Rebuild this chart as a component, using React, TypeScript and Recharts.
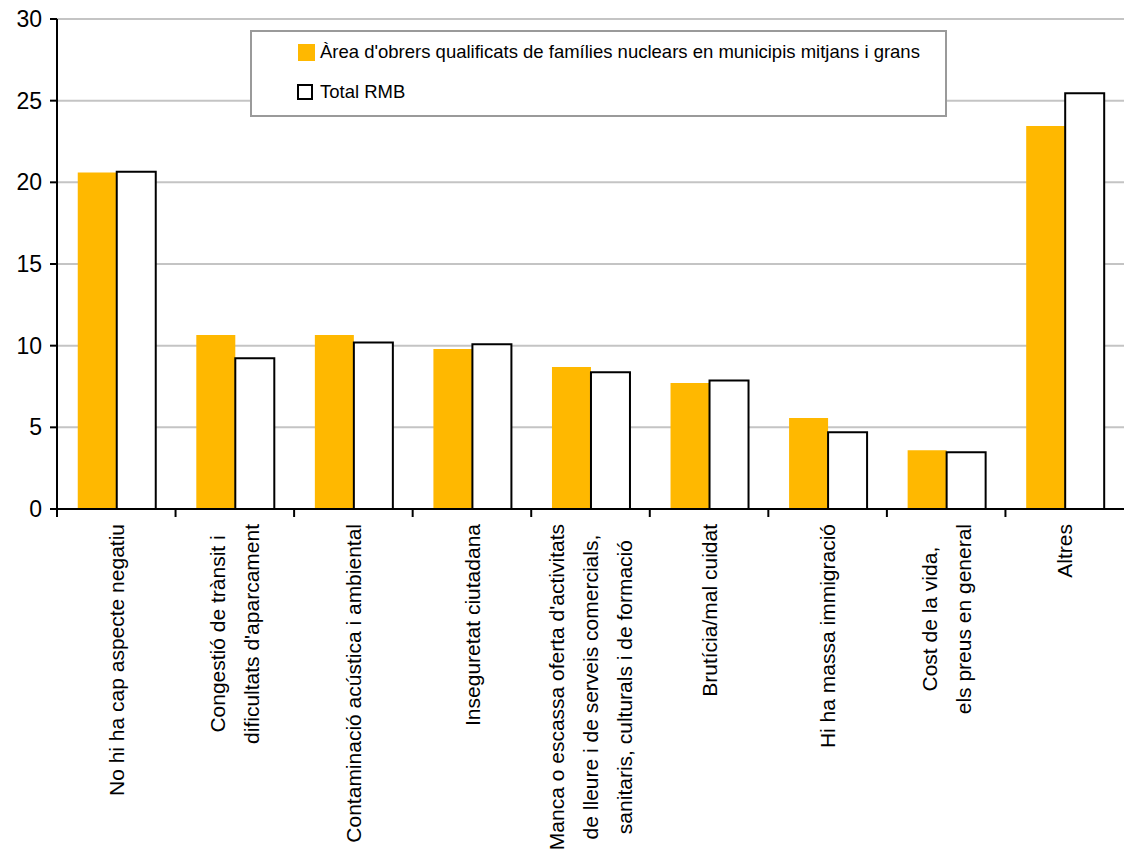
import { BarChart, Bar, XAxis, YAxis, CartesianGrid } from "recharts";

const categories = [
  "No hi ha cap aspecte negatiu",
  "Congestió de trànsit i\ndificultats d'aparcament",
  "Contaminació acústica i ambiental",
  "Inseguretat ciutadana",
  "Manca o escassa oferta d'activitats\nde lleure i de serveis comercials,\nsanitaris,  culturals i de formació",
  "Brutícia/mal cuidat",
  "Hi ha massa immigració",
  "Cost de la vida,\nels preus en general",
  "Altres",
];

const areaValues = [20.6, 10.65, 10.65, 9.8, 8.7, 7.72, 5.57, 3.6, 23.45];
const totalValues = [20.65, 9.23, 10.2, 10.08, 8.37, 7.86, 4.7, 3.47, 25.45];
const yTicks = [0, 5, 10, 15, 20, 25, 30];

const areaName = "Àrea d'obrers qualificats de famílies nuclears en municipis mitjans i grans";
const totalName = "Total RMB";

const data = categories.map((name, i) => ({
  name,
  area: areaValues[i],
  total: totalValues[i],
}));

const FONT = '"Liberation Sans", Arial, sans-serif';
const ORANGE = "#FFB800";
const W = 1124;
const H = 857;
const LEFT = 57;
const BW = (W - LEFT) / categories.length;
const LABEL_SIZE = 21;
const LINE_H = 34;

let ctx: CanvasRenderingContext2D | null = null;
const measure = (s: string) => {
  if (!ctx) ctx = document.createElement("canvas").getContext("2d");
  if (!ctx) return s.length * 9;
  ctx.font = `${LABEL_SIZE}px ${FONT}`;
  return ctx.measureText(s).width;
};

const CategoryTick = (props: any) => {
  const { x, y, payload } = props;
  const lines = String(payload.value).split("\n");
  const maxW = Math.max(...lines.map(measure));
  const n = lines.length;
  return (
    <g>
      <line x1={x - BW / 2} x2={x - BW / 2} y1={y} y2={y + 8} stroke="#000" strokeWidth={2} />
      <g transform={`translate(${x},${y + 15 + maxW / 2}) rotate(-90)`}>
        {lines.map((l, i) => (
          <text
            key={i}
            x={0}
            y={(i - (n - 1) / 2) * LINE_H}
            dy="0.36em"
            textAnchor="middle"
            fontFamily={FONT}
            fontSize={LABEL_SIZE}
            fill="#000"
          >
            {l}
          </text>
        ))}
      </g>
    </g>
  );
};

// legend box drawn over the plot, like the original
const LegendBox = () => (
  <div
    style={{
      position: "absolute",
      left: 250,
      top: 30,
      width: 693,
      height: 83,
      border: "2px solid #9a9a9a",
      background: "#fff",
      fontFamily: FONT,
      fontSize: 18.5,
      color: "#000",
      whiteSpace: "nowrap",
    }}
  >
    <div style={{ position: "absolute", left: 46, top: 12, width: 17, height: 17, background: ORANGE }} />
    <div style={{ position: "absolute", left: 68, top: 9, lineHeight: "22px" }}>{areaName}</div>
    <div
      style={{
        position: "absolute",
        left: 45,
        top: 52,
        width: 12,
        height: 12,
        border: "2px solid #000",
        background: "#fff",
      }}
    />
    <div style={{ position: "absolute", left: 68, top: 49, lineHeight: "22px" }}>{totalName}</div>
  </div>
);

const App = () => {
  return (
    <div style={{ position: "fixed", left: 0, top: 0, width: W, height: H, background: "#fff" }}>
      <BarChart
        width={W}
        height={H}
        data={data}
        margin={{ top: 19, right: 0, bottom: 0, left: 0 }}
        barCategoryGap="17.5%"
        barGap={0}
      >
        <CartesianGrid vertical={false} stroke="#c4c4c4" strokeWidth={2} />
        <XAxis
          dataKey="name"
          interval={0}
          height={348}
          tick={<CategoryTick />}
          tickLine={false}
          tickSize={0}
          tickMargin={0}
          axisLine={{ stroke: "#000", strokeWidth: 2 }}
        />
        <YAxis
          width={LEFT}
          domain={[0, 30]}
          ticks={yTicks}
          interval={0}
          tickSize={7}
          tickMargin={8}
          tickLine={{ stroke: "#000", strokeWidth: 2 }}
          axisLine={{ stroke: "#000", strokeWidth: 2 }}
          tick={{ fill: "#000", fontSize: 23, fontFamily: FONT }}
        />
        <Bar dataKey="area" name={areaName} fill={ORANGE} isAnimationActive={false} />
        <Bar dataKey="total" name={totalName} fill="#fff" stroke="#000" strokeWidth={2} isAnimationActive={false} />
      </BarChart>
      <LegendBox />
    </div>
  );
};

export default App;
